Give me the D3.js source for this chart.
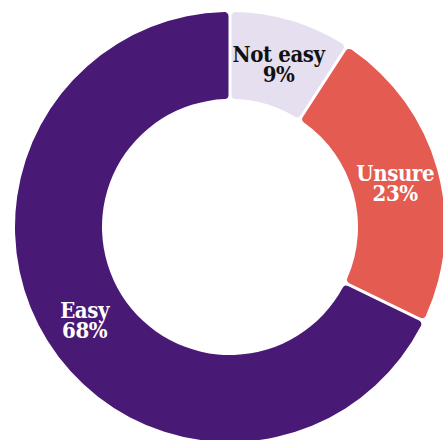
<!DOCTYPE html>
<html>
<head>
<meta charset="utf-8">
<script src="https://cdn.jsdelivr.net/npm/d3@7"></script>
<style>
  html, body { margin: 0; padding: 0; background: #ffffff; }
  svg { display: block; }
</style>
</head>
<body>
<svg id="chart" width="443" height="440"></svg>
<script>
// Survey answers, in clockwise order from 12 o'clock
const categories = ["Not easy", "Unsure", "Easy"];
const values = [9, 23, 68];
const colors = ["#e6dff0", "#e35b51", "#491976"];
const labelColors = ["#111111", "#ffffff", "#ffffff"];

const width = 443, height = 440;
const cx = 230, cy = 227;
const outerR = 215, innerR = 128;

const svg = d3.select("#chart");
const g = svg.append("g").attr("transform", `translate(${cx},${cy})`);

const data = categories.map((c, i) => ({ category: c, value: values[i], i }));

const pie = d3.pie()
  .value(d => d.value)
  .sort(null)
  .padAngle(0.012);

const arc = d3.arc()
  .innerRadius(innerR)
  .outerRadius(outerR)
  .cornerRadius(4);

const arcs = pie(data);

g.selectAll("path.slice")
  .data(arcs)
  .join("path")
  .attr("class", "slice")
  .attr("d", arc)
  .attr("fill", d => colors[d.data.i]);

// Labels sit on the middle of the ring
const labelArc = d3.arc().innerRadius((innerR + outerR) / 2).outerRadius((innerR + outerR) / 2);

const labels = g.selectAll("text.label")
  .data(arcs)
  .join("text")
  .attr("class", "label")
  .attr("transform", d => {
    const [x, y] = labelArc.centroid(d);
    return `translate(${x},${y + 4})`;
  })
  .attr("text-anchor", "middle")
  .attr("font-family", "'DejaVu Serif Condensed', 'DejaVu Serif', serif")
  .attr("font-weight", "bold")
  .attr("font-size", 22)
  .attr("letter-spacing", -0.4)
  .attr("fill", d => labelColors[d.data.i]);

labels.append("tspan")
  .attr("x", 0)
  .attr("dy", "-0.2em")
  .text(d => d.data.category);

labels.append("tspan")
  .attr("x", 0)
  .attr("dy", "0.92em")
  .text(d => d.data.value + "%");
</script>
</body>
</html>
